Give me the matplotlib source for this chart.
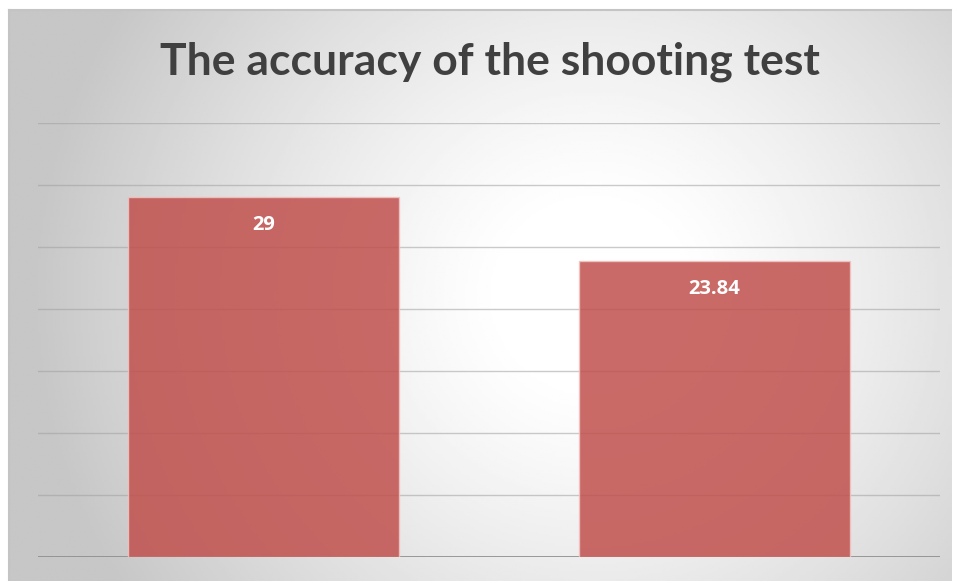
import numpy as np
import matplotlib.pyplot as plt

# 数据
categories = ["A", "B"]
values = [29, 23.84]
value_labels = ["29", "23.84"]
title = "The accuracy of the shooting test"

W, H = 955, 581
fig = plt.figure(figsize=(W / 100, H / 100), dpi=100)
fig.patch.set_facecolor("white")

# 背景渐变（径向，中间白，四周灰）
bg_l, bg_b = 9 / W, 0.0
bg_w, bg_h = (951 - 9) / W, (H - 10) / H
bg = fig.add_axes([bg_l, bg_b, bg_w, bg_h], zorder=0)
nx, ny = 400, 250
xx, yy = np.meshgrid(np.linspace(0, 1, nx), np.linspace(0, 1, ny))
cx, cy = 0.62, 0.5
r = np.sqrt(((xx - cx) * 1.6) ** 2 + (yy - cy) ** 2)
shade = np.clip(1.0 - 0.22 * np.clip((r - 0.15) / 0.8, 0, 1) ** 1.2, 0, 1)
bg.imshow(shade, cmap="gray", vmin=0, vmax=1, aspect="auto",
          extent=[0, 1, 0, 1], origin="upper")
bg.set_xlim(0, 1)
bg.set_ylim(0, 1)
bg.axis("off")
fig.add_artist(plt.Line2D([bg_l, bg_l + bg_w], [bg_b + bg_h, bg_b + bg_h],
                          color="#c4c4c4", lw=1.5, transform=fig.transFigure))
fig.add_artist(plt.Line2D([bg_l, bg_l], [0, bg_b + bg_h],
                          color="#c4c4c4", lw=1.5, transform=fig.transFigure))

# 主图
ax = fig.add_axes([38 / W, (H - 557) / H, 902 / W, 434 / H], zorder=1)
ax.patch.set_alpha(0)
x = np.arange(len(categories))
bars = ax.bar(x, values, width=0.6, color="#c0504d", alpha=0.85,
              edgecolor="#f2c4c2", linewidth=1, zorder=3)
ax.set_xlim(-0.5, 1.5)
ax.set_ylim(0, 35)
ax.set_yticks(np.arange(0, 36, 5))
ax.grid(axis="y", color="#a0a0a0", alpha=0.55, lw=1, zorder=1)
ax.tick_params(left=False, bottom=False, labelleft=False, labelbottom=False)
for s in ax.spines.values():
    s.set_visible(False)
ax.axhline(0, color="#8c8c8c", lw=1.2, zorder=2)

for b, lab in zip(bars, value_labels):
    ax.annotate(lab, (b.get_x() + b.get_width() / 2, b.get_height()),
                xytext=(0, -20), textcoords="offset points",
                ha="center", va="center", color="white",
                fontsize=14.5, fontweight="bold", family="Open Sans", zorder=4)

fig.text(490 / W, 1 - 62 / H, title, ha="center", va="center",
         fontsize=32, fontweight="bold", family="Lato", color="#404040")

plt.savefig("out.png", dpi=100)
